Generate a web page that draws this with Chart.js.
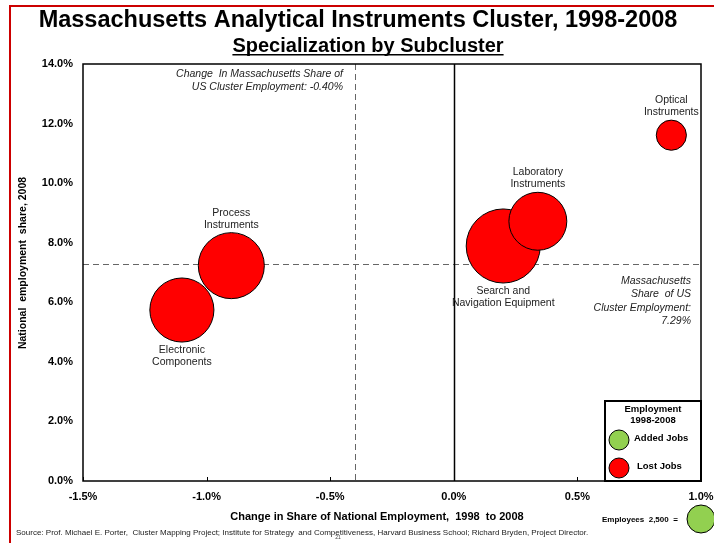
<!DOCTYPE html>
<html>
<head>
<meta charset="utf-8">
<title>Massachusetts Analytical Instruments Cluster</title>
<script src="https://cdn.jsdelivr.net/npm/chart.js@4.4.0/dist/chart.umd.min.js"></script>
<style>
	html, body { margin: 0; padding: 0; background: #fff; }
	#chart { display: block; }
</style>
</head>
<body>
<canvas id="chart" width="714" height="543"></canvas>
<script>
"use strict";

// subclusters, 1998-2008
var subclusters = ["Electronic Components", "Process Instruments", "Search and Navigation Equipment", "Laboratory Instruments", "Optical Instruments"];
var shareChange = [-1.10, -0.90, 0.20, 0.34, 0.88];     // change in share of national employment, %
var nationalShare = [5.74, 7.23, 7.89, 8.72, 11.61];    // national employment share 2008, %
var employees = [13100, 13900, 17500, 10700, 2900];     // employees 2008
var addedJobs = [false, false, false, false, false];

var xTicks = [-1.5, -1.0, -0.5, 0.0, 0.5, 1.0];
var yTicks = [0, 2, 4, 6, 8, 10, 12, 14];

var maShare = 7.29;          // Massachusetts share of US cluster employment
var maShareChange = -0.40;   // change in that share
var refEmployees = 2500;

var FONT = "'Liberation Sans', Arial, sans-serif";
var RED = "#ff0000";
var GREEN = "#92d050";

// bubble area follows employment; 2,500 employees -> 14px radius
function bubbleRadius(count) {
	return 14 * Math.sqrt(count / refEmployees);
}

// label lines and where they sit relative to each bubble
var labelLines = [["Electronic", "Components"], ["Process", "Instruments"], ["Search and", "Navigation Equipment"], ["Laboratory", "Instruments"], ["Optical", "Instruments"]];
var labelBelow = [true, false, true, false, false];

var points = subclusters.map(function(name, i) {
	return { x: shareChange[i], y: nationalShare[i], r: bubbleRadius(employees[i]) };
});

function text(ctx, str, x, y, font, align, color) {
	ctx.font = font;
	ctx.textAlign = align || "left";
	ctx.textBaseline = "middle";
	ctx.fillStyle = color || "#000";
	ctx.fillText(str, x, y);
}

function circle(ctx, x, y, r, fill) {
	ctx.beginPath();
	ctx.arc(x, y, r, 0, Math.PI * 2);
	ctx.fillStyle = fill;
	ctx.fill();
	ctx.lineWidth = 1;
	ctx.strokeStyle = "#000";
	ctx.stroke();
}

var backgroundPlugin = {
	id: "quadrants",
	beforeDatasetsDraw: function(chart) {
		var ctx = chart.ctx;
		var area = chart.chartArea;
		var xs = chart.scales.x;
		var ys = chart.scales.y;
		ctx.save();

		// dashed reference lines for the state averages
		ctx.setLineDash([6, 4]);
		ctx.strokeStyle = "#666";
		ctx.lineWidth = 1;
		var yAvg = Math.round(ys.getPixelForValue(maShare)) + 0.5;
		ctx.beginPath();
		ctx.moveTo(area.left, yAvg);
		ctx.lineTo(area.right, yAvg);
		var xAvg = Math.round(xs.getPixelForValue(maShareChange)) + 0.5;
		ctx.moveTo(xAvg, area.top);
		ctx.lineTo(xAvg, area.bottom);
		ctx.stroke();
		ctx.setLineDash([]);

		// zero line
		var x0 = Math.round(xs.getPixelForValue(0)) + 0.5;
		ctx.strokeStyle = "#000";
		ctx.lineWidth = 1.5;
		ctx.beginPath();
		ctx.moveTo(x0, area.top);
		ctx.lineTo(x0, area.bottom);
		ctx.stroke();

		// plot frame
		ctx.strokeRect(area.left, area.top, area.right - area.left, area.bottom - area.top);

		// inward tick marks on the x axis
		ctx.lineWidth = 1;
		ctx.beginPath();
		xTicks.forEach(function(v) {
			var px = Math.round(xs.getPixelForValue(v)) + 0.5;
			ctx.moveTo(px, area.bottom);
			ctx.lineTo(px, area.bottom - 4);
		});
		ctx.stroke();
		ctx.restore();
	},
	afterDatasetsDraw: function(chart) {
		var ctx = chart.ctx;
		var meta = chart.getDatasetMeta(0);
		ctx.save();
		meta.data.forEach(function(el, i) {
			var r = points[i].r;
			var lines = labelLines[i];
			var y = labelBelow[i] ? el.y + r + 8 : el.y - r - 8 - (lines.length - 1) * 12;
			lines.forEach(function(line, j) {
				text(ctx, line, el.x, y + j * 12, "10.5px " + FONT, "center", "#222");
			});
		});
		ctx.restore();
	},
	afterDraw: function(chart) {
		var ctx = chart.ctx;
		var area = chart.chartArea;
		ctx.save();

		// page frame
		ctx.strokeStyle = "#cc0000";
		ctx.lineWidth = 2;
		ctx.strokeRect(10, 6, 760, 600);

		// titles
		ctx.font = "bold 23.5px " + FONT;
		ctx.textAlign = "center";
		ctx.textBaseline = "alphabetic";
		ctx.fillStyle = "#000";
		ctx.fillText("Massachusetts Analytical Instruments Cluster, 1998-2008", 358, 27);
		ctx.font = "bold 20px " + FONT;
		var sub = "Specialization by Subcluster";
		ctx.fillText(sub, 368, 52);
		var w = ctx.measureText(sub).width;
		ctx.fillRect(368 - w / 2, 54, w, 1.5);

		// axis titles
		text(ctx, "Change in Share of National Employment,  1998  to 2008", 377, 517, "bold 11px " + FONT, "center");
		ctx.save();
		ctx.translate(23, 263);
		ctx.rotate(-Math.PI / 2);
		text(ctx, "National  employment  share, 2008", 0, 0, "bold 10.5px " + FONT, "center");
		ctx.restore();

		// reference notes
		var it = "italic 10.5px " + FONT;
		text(ctx, "Change  In Massachusetts Share of", 343, 74, it, "right", "#222");
		text(ctx, "US Cluster Employment: -0.40%", 343, 87, it, "right", "#222");
		["Massachusetts", "Share  of US", "Cluster Employment:", "7.29%"].forEach(function(line, j) {
			text(ctx, line, 691, 281 + j * 13.5, it, "right", "#222");
		});

		// legend box
		ctx.fillStyle = "#fff";
		ctx.fillRect(605, 401, area.right - 605, area.bottom - 401);
		ctx.strokeStyle = "#000";
		ctx.lineWidth = 2;
		ctx.strokeRect(605, 401, area.right - 605, area.bottom - 401);
		var lb = "bold 9.5px " + FONT;
		text(ctx, "Employment", 653, 409, lb, "center");
		text(ctx, "1998-2008", 653, 420, lb, "center");
		circle(ctx, 619, 440, 10, GREEN);
		text(ctx, "Added Jobs", 634, 438, lb, "left");
		circle(ctx, 619, 468, 10, RED);
		text(ctx, "Lost Jobs", 637, 466, lb, "left");

		// size key
		text(ctx, "Employees  2,500  =", 602, 520, "bold 8px " + FONT, "left");
		circle(ctx, 701, 519, bubbleRadius(refEmployees), GREEN);

		// source
		text(ctx, "Source: Prof. Michael E. Porter,  Cluster Mapping Project; Institute for Strategy  and Competitiveness, Harvard Business School; Richard Bryden, Project Director.", 16, 533, "8px " + FONT, "left", "#222");
		text(ctx, "21", 338, 538, "5px " + FONT, "center", "#444");
		ctx.restore();
	}
};

var tickFont = { family: FONT, size: 11, weight: "bold" };

new Chart(document.getElementById("chart"), {
	type: "bubble",
	data: {
		datasets: [{
			label: "Subclusters",
			data: points,
			backgroundColor: addedJobs.map(function(a) { return a ? GREEN : RED; }),
			borderColor: "#000",
			borderWidth: 1,
			hoverRadius: 0
		}]
	},
	options: {
		responsive: false,
		animation: false,
		devicePixelRatio: 1,
		// bubbles stay inside the frame, so no extra room for their radius
		layout: { autoPadding: false, padding: { left: 0, right: 13, top: 64, bottom: 0 } },
		plugins: {
			legend: { display: false },
			tooltip: { enabled: false }
		},
		scales: {
			x: {
				type: "linear",
				min: xTicks[0],
				max: xTicks[xTicks.length - 1],
				ticks: {
					stepSize: xTicks[1] - xTicks[0],
					font: tickFont,
					color: "#000",
					padding: 9,
					callback: function(v) { return v.toFixed(1) + "%"; }
				},
				grid: { display: false, drawTicks: false },
				border: { display: false },
				afterFit: function(scale) {
					scale.height = 62;
					scale.paddingLeft = 0;
					scale.paddingRight = 0;
				}
			},
			y: {
				min: yTicks[0],
				max: yTicks[yTicks.length - 1],
				ticks: {
					stepSize: yTicks[1] - yTicks[0],
					font: tickFont,
					color: "#000",
					padding: 10,
					callback: function(v) { return v.toFixed(1) + "%"; }
				},
				grid: { display: false, drawTicks: false },
				border: { display: false },
				afterFit: function(scale) { scale.width = 83; }
			}
		}
	},
	plugins: [backgroundPlugin]
});
</script>
</body>
</html>
